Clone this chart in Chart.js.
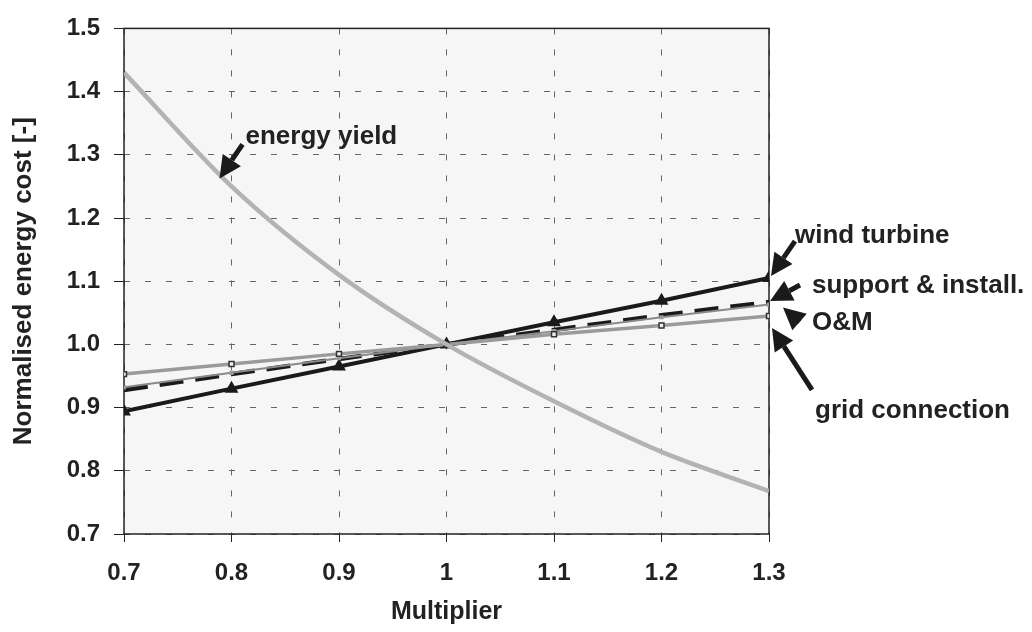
<!DOCTYPE html>
<html lang="en">
<head>
    <meta charset="UTF-8">
    <title>energy cost</title>
    <script src="https://cdn.jsdelivr.net/npm/chart.js@4.4.0/dist/chart.umd.min.js"></script>
    <style>
        body { margin: 0; background: #fff; }
    </style>
</head>
<body>
    <canvas id="myChart" width="1032" height="632"></canvas>
    <script>
        const multiplier = [0.7, 0.8, 0.9, 1.0, 1.1, 1.2, 1.3];
        const energyYield = [1.43, 1.25, 1.11, 1.0, 0.91, 0.83, 0.768];
        const windTurbine = [0.894, 0.930, 0.965, 1.0, 1.035, 1.069, 1.105];
        const supportInstall = [0.928, 0.953, 0.977, 1.0, 1.023, 1.046, 1.067];
        const oAndM = [0.932, 0.955, 0.978, 1.0, 1.021, 1.043, 1.063];
        const gridConnection = [0.953, 0.969, 0.985, 1.0, 1.016, 1.030, 1.045];
        const xTicks = ['0.7', '0.8', '0.9', '1', '1.1', '1.2', '1.3'];

        // labels with arrows: anchored on a data point, offsets in px
        const notes = [
            { text: 'energy yield', x: 0.8, y: 1.25, tip: [-12, -8], tail: [11, -42], at: [14, -50] },
            { text: 'wind turbine', x: 1.3, y: 1.105, tip: [2, -2], tail: [26, -37], at: [26, -42] },
            { text: 'support & install.', x: 1.3, y: 1.067, tip: [1, -1], tail: [31, -17], at: [43, -16] },
            { text: 'O&M', x: 1.3, y: 1.063, tip: [14, 3], tail: [30, 17], at: [43, 18] },
            { text: 'grid connection', x: 1.3, y: 1.045, tip: [3, 12], tail: [43, 74], at: [46, 95] }
        ];

        const font = 'Liberation Sans, Arial, sans-serif';

        function pts(arr) {
            return arr.map((v, i) => ({ x: multiplier[i], y: v }));
        }

        const frame = {
            id: 'frame',
            beforeDatasetsDraw(chart) {
                const a = chart.chartArea;
                const ctx = chart.ctx;
                ctx.save();
                ctx.strokeStyle = '#222';
                ctx.lineWidth = 1.5;
                ctx.strokeRect(a.left, a.top, a.right - a.left, a.bottom - a.top);
                ctx.restore();
            },
            beforeDraw(chart) {
                const a = chart.chartArea;
                const ctx = chart.ctx;
                ctx.save();
                ctx.fillStyle = '#f6f6f6';
                ctx.fillRect(a.left, a.top, a.right - a.left, a.bottom - a.top);
                ctx.restore();
            }
        };

        const arrows = {
            id: 'arrows',
            afterDraw(chart) {
                const ctx = chart.ctx;
                const xs = chart.scales.x, ys = chart.scales.y;
                ctx.save();
                notes.forEach(n => {
                    const px = xs.getPixelForValue(n.x);
                    const py = ys.getPixelForValue(n.y);
                    const tx = px + n.tip[0], ty = py + n.tip[1];
                    const sx = px + n.tail[0], sy = py + n.tail[1];
                    const ang = Math.atan2(ty - sy, tx - sx);
                    const hl = 22, hw = 11;
                    const bx = tx - hl * Math.cos(ang), by = ty - hl * Math.sin(ang);
                    ctx.strokeStyle = '#1a1a1a';
                    ctx.fillStyle = '#1a1a1a';
                    ctx.lineWidth = 5;
                    ctx.beginPath();
                    ctx.moveTo(sx, sy);
                    ctx.lineTo(bx, by);
                    ctx.stroke();
                    ctx.beginPath();
                    ctx.moveTo(tx, ty);
                    ctx.lineTo(bx + hw * Math.sin(ang), by - hw * Math.cos(ang));
                    ctx.lineTo(bx - hw * Math.sin(ang), by + hw * Math.cos(ang));
                    ctx.closePath();
                    ctx.fill();
                    ctx.font = 'bold 26px ' + font;
                    ctx.textAlign = 'left';
                    ctx.textBaseline = 'middle';
                    ctx.fillStyle = '#222';
                    ctx.fillText(n.text, px + n.at[0], py + n.at[1]);
                });
                ctx.restore();
            }
        };

        const ctx = document.getElementById('myChart').getContext('2d');
        const myChart = new Chart(ctx, {
            type: 'line',
            data: {
                datasets: [{
                    label: 'energy yield',
                    data: pts(energyYield),
                    borderColor: '#b3b3b3',
                    borderWidth: 4.5,
                    pointRadius: 0,
                    tension: 0.3
                }, {
                    label: 'grid connection',
                    data: pts(gridConnection),
                    borderColor: '#9a9a9a',
                    borderWidth: 3.5,
                    pointStyle: 'rect',
                    pointRadius: 3.5,
                    pointBackgroundColor: '#eee',
                    pointBorderColor: '#333',
                    pointBorderWidth: 1.5
                }, {
                    label: 'O&M',
                    data: pts(oAndM),
                    borderColor: '#8a8a8a',
                    borderWidth: 2,
                    pointStyle: 'rect',
                    pointRadius: 1.5,
                    pointBackgroundColor: '#999',
                    pointBorderColor: '#999'
                }, {
                    label: 'support & install.',
                    data: pts(supportInstall),
                    borderColor: '#1a1a1a',
                    borderWidth: 4.5,
                    borderDash: [24, 12],
                    pointRadius: 0
                }, {
                    label: 'wind turbine',
                    data: pts(windTurbine),
                    borderColor: '#1a1a1a',
                    borderWidth: 4,
                    pointStyle: 'triangle',
                    pointRadius: 4,
                    pointBackgroundColor: '#1a1a1a',
                    pointBorderColor: '#1a1a1a'
                }]
            },
            options: {
                responsive: false,
                animation: false,
                layout: { padding: { top: 22, right: 263, left: 0, bottom: 0 } },
                plugins: {
                    legend: { display: false },
                    tooltip: { enabled: false }
                },
                scales: {
                    x: {
                        type: 'linear',
                        min: 0.7,
                        max: 1.3,
                        afterFit(axis) { axis.height = 98; },
                        afterBuildTicks(axis) {
                            axis.ticks = multiplier.map(v => ({ value: v }));
                        },
                        border: { display: false, dash: [6, 15] },
                        grid: {
                            color: '#666',
                            lineWidth: 1,
                            drawTicks: true,
                            tickLength: 8,
                            tickColor: '#222',
                            tickBorderDash: []
                        },
                        ticks: {
                            padding: 17,
                            color: '#222',
                            font: { family: font, size: 24, weight: 'bold' },
                            callback: (v, i) => xTicks[i]
                        },
                        title: {
                            display: true,
                            text: 'Multiplier',
                            color: '#222',
                            font: { family: font, size: 25, weight: 'bold' },
                            padding: { top: 0, bottom: 5 }
                        }
                    },
                    y: {
                        min: 0.7,
                        max: 1.5,
                        afterFit(axis) { axis.width = 124; },
                        border: { display: false, dash: [6, 15] },
                        grid: {
                            color: '#666',
                            lineWidth: 1,
                            drawTicks: true,
                            tickLength: 10,
                            tickColor: '#222',
                            tickBorderDash: []
                        },
                        ticks: {
                            stepSize: 0.1,
                            padding: 14,
                            color: '#222',
                            font: { family: font, size: 24, weight: 'bold' },
                            callback: v => v.toFixed(1)
                        },
                        title: {
                            display: true,
                            text: 'Normalised energy cost [-]',
                            color: '#222',
                            font: { family: font, size: 26, weight: 'bold' },
                            padding: { top: 8, bottom: 0 }
                        }
                    }
                }
            },
            plugins: [frame, arrows]
        });
    </script>
</body>
</html>
